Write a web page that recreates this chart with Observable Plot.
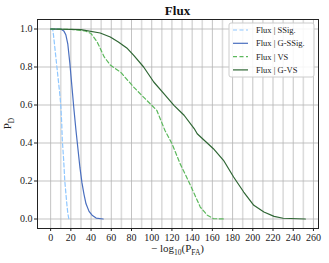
<!DOCTYPE html>
<html><head><meta charset="utf-8">
<script src="https://cdn.jsdelivr.net/npm/d3@7"></script>
<script src="https://cdn.jsdelivr.net/npm/@observablehq/plot@0.6"></script>
<style>
body{margin:0;background:#fff;}
svg{font-family:"Liberation Serif","DejaVu Serif",serif;}
</style></head><body><div id="c"></div>
<script>
const seriesNames = ["Flux | SSig.", "Flux | G-SSig.", "Flux | VS", "Flux | G-VS"];
const colors = ["#8fc7ff", "#4a6fbf", "#5cb85c", "#2f6634"];
const dashes = ["4,2.5", null, "4,2.5", null];

const ssigX = [0, 2, 3, 5, 7, 9, 10, 11, 11.5, 13, 14, 16, 17, 18];
const ssigY = [1, 1, 0.96, 0.86, 0.76, 0.66, 0.6, 0.5, 0.42, 0.3, 0.2, 0.08, 0.03, 0];
const gssigX = [0, 10, 13, 15, 17, 19, 21, 23, 25, 27, 29, 31, 33, 35, 38, 41, 45, 52];
const gssigY = [1, 1, 0.99, 0.97, 0.92, 0.82, 0.7, 0.58, 0.47, 0.37, 0.27, 0.19, 0.13, 0.08, 0.04, 0.02, 0.005, 0];
const vsX = [0, 20, 30, 35, 40, 46, 53, 59, 69, 82, 95, 105, 113, 120, 128, 136, 142, 148, 155, 161, 172];
const vsY = [1, 0.998, 0.993, 0.988, 0.976, 0.932, 0.853, 0.81, 0.774, 0.695, 0.625, 0.572, 0.467, 0.397, 0.292, 0.204, 0.134, 0.063, 0.02, 0.002, 0];
const gvsX = [0, 30, 49, 59, 67, 76, 82, 92, 102, 112, 122, 132, 142, 145, 161, 171, 181, 191, 201, 211, 221, 230, 252];
const gvsY = [1, 0.997, 0.979, 0.958, 0.932, 0.897, 0.862, 0.8, 0.721, 0.66, 0.598, 0.546, 0.476, 0.449, 0.37, 0.309, 0.221, 0.142, 0.072, 0.037, 0.014, 0.004, 0];

const xTicks = d3.range(0, 261, 20);
const xMinor = d3.range(10, 261, 20);
const yTicks = [0, 0.2, 0.4, 0.6, 0.8, 1.0];

const allX = [ssigX, gssigX, vsX, gvsX];
const allY = [ssigY, gssigY, vsY, gvsY];
const rows = allX.map((xs, i) => xs.map((x, j) => ({x, y: allY[i][j], s: i})));

const W = 329, H = 263, ml = 37, mr = 11, mt = 19, mb = 35;
const marks = [
  Plot.ruleX(xMinor, {stroke: "#dcdcdc", strokeWidth: 1.6}),
  Plot.ruleX(xTicks, {stroke: "#b4b4b4", strokeWidth: 0.8}),
  Plot.ruleY(yTicks, {stroke: "#b4b4b4", strokeWidth: 0.8}),
  Plot.axisX({ticks: xTicks, tickSize: 3, tickPadding: 2, label: null, fontSize: 10}),
  Plot.axisY({ticks: yTicks, tickSize: 3, tickPadding: 2, label: null, fontSize: 10, tickFormat: d3.format(".1f")}),
];
rows.forEach((r, i) => {
  marks.push(Plot.line(r, {x: "x", y: "y", stroke: colors[i], strokeWidth: 1.2, strokeDasharray: dashes[i] || undefined}));
});
marks.push(Plot.frame({stroke: "#222", strokeWidth: 1}));

const svg = Plot.plot({
  width: W, height: H, marginLeft: ml, marginRight: mr, marginTop: mt, marginBottom: mb,
  x: {domain: [-13, 265]},
  y: {domain: [-0.05, 1.05]},
  style: {fontFamily: '"Liberation Serif","DejaVu Serif",serif', fontSize: "10px", color: "#222", background: "#fff"},
  marks
});
document.getElementById("c").appendChild(svg);

const s = d3.select(svg);
s.append("text").attr("x", (ml + W - mr) / 2).attr("y", 15).attr("text-anchor", "middle")
  .attr("font-weight", "bold").attr("font-size", 13).attr("fill", "#111").text("Flux");
const yl = s.append("text").attr("transform", `translate(11,${(mt + H - mb) / 2}) rotate(-90)`)
  .attr("text-anchor", "middle").attr("font-size", 11).attr("fill", "#222");
yl.append("tspan").text("P");
yl.append("tspan").attr("font-size", 7.5).attr("dy", 3).text("D");
const xl = s.append("text").attr("x", (ml + W - mr) / 2).attr("y", 252).attr("text-anchor", "middle")
  .attr("font-size", 11).attr("fill", "#222");
xl.append("tspan").text("\u2212 log");
xl.append("tspan").attr("font-size", 7.5).attr("dy", 3).text("10");
xl.append("tspan").attr("dy", -3).text("(P");
xl.append("tspan").attr("font-size", 7.5).attr("dy", 3).text("FA");
xl.append("tspan").attr("dy", -3).text(")");

const lg = s.append("g");
lg.append("rect").attr("x", 229).attr("y", 23).attr("width", 85).attr("height", 54).attr("rx", 2)
  .attr("fill", "#fff").attr("fill-opacity", 0.85).attr("stroke", "#cccccc");
seriesNames.forEach((n, i) => {
  const yy = 30 + i * 13.3;
  lg.append("line").attr("x1", 233).attr("x2", 248).attr("y1", yy).attr("y2", yy)
    .attr("stroke", colors[i]).attr("stroke-width", 1.2).attr("stroke-dasharray", dashes[i]);
  lg.append("text").attr("x", 256).attr("y", yy + 3).attr("text-anchor", "start")
    .attr("font-size", 8.5).attr("fill", "#222").text(n);
});
</script></body></html>
